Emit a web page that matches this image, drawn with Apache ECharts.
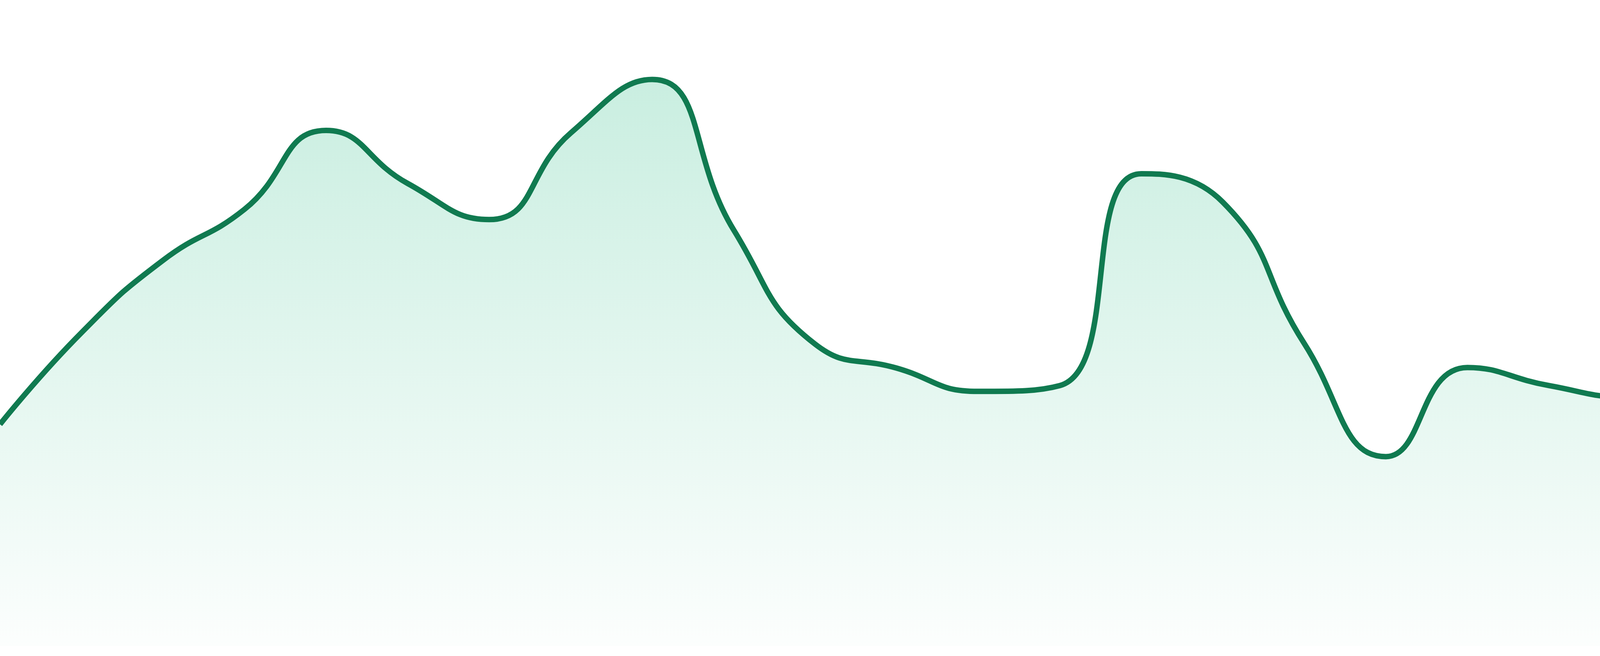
<!DOCTYPE html>
<html>
<head>
<meta charset="utf-8">
<title>area</title>
<script src="https://cdn.jsdelivr.net/npm/echarts@6/dist/echarts.min.js"></script>
<style>
    html, body { margin: 0; padding: 0; background: #ffffff; }
    #main { width: 4800px; height: 1680px; }
</style>
</head>
<body>
<div id="main"></div>
<script>
// categories along x, one per node of the curve
var categories = [
    "1", "2", "3", "4", "5", "6", "7", "8", "9", "10", "11", "12",
    "13", "14", "15", "16", "17", "18", "19", "20", "21", "22", "23", "24"
];

// values (axis 0 - 100)
var values = [
    34.3, 48.5, 59.7, 67.6, 79.8, 71.6, 66.0, 79.4, 87.7, 64.4, 46.7, 43.0,
    39.4, 40.3, 73.1, 68.7, 46.8, 29.3, 43.1, 40.3, 38.5, 42.3, 46.6, 53.7
];

var yMin = 0;
var yMax = 100;

(function(echarts){
    "use strict";

    var chart = echarts.init(document.getElementById("main"), null, {renderer: "canvas"});

    var option = {
        animation: false,
        backgroundColor: "#ffffff",
        grid: {
            left: 0,
            right: 0,
            top: 0,
            bottom: 26
        },
        xAxis: {
            type: "category",
            data: categories,
            boundaryGap: false,
            show: false
        },
        yAxis: {
            type: "value",
            min: yMin,
            max: yMax,
            show: false
        },
        series: [{
            type: "line",
            data: values,
            smooth: true,
            showSymbol: false,
            symbol: "none",
            lineStyle: {
                color: "#107a50",
                width: 14
            },
            areaStyle: {
                //上深下浅的渐变
                color: new echarts.graphic.LinearGradient(0, 0, 0, 1, [
                    {offset: 0, color: "rgba(22,182,122,0.33)"},
                    {offset: 1, color: "rgba(22,182,122,0.02)"}
                ])
            }
        }]
    };

    chart.setOption(option);
})(echarts);
</script>
</body>
</html>
